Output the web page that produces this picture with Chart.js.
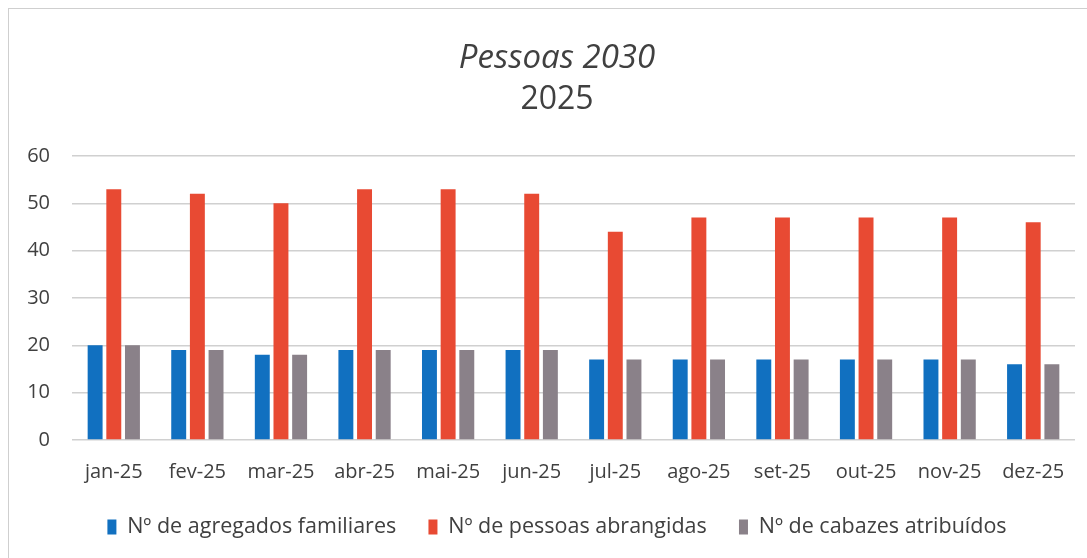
<!DOCTYPE html>
<html>
<head>
<meta charset="utf-8">
<script src="https://cdn.jsdelivr.net/npm/chart.js@4/dist/chart.umd.min.js"></script>
<style>
  html, body { margin: 0; padding: 0; background: #fff; overflow: hidden; }
  #frame { position: absolute; left: 8px; top: 8px; width: 1100px; height: 600px;
           border: 1px solid #cfcfcf; box-sizing: border-box; }
  #wrap { position: absolute; left: 0; top: 0; width: 1087px; height: 558px; }
</style>
</head>
<body>
<div id="frame"></div>
<div id="wrap"><canvas id="c" width="1087" height="558"></canvas></div>
<script>
const months = ['jan-25','fev-25','mar-25','abr-25','mai-25','jun-25','jul-25','ago-25','set-25','out-25','nov-25','dez-25'];
const agregados = [20, 19, 18, 19, 19, 19, 17, 17, 17, 17, 17, 16];
const pessoas   = [53, 52, 50, 53, 53, 52, 44, 47, 47, 47, 47, 46];
const cabazes   = [20, 19, 18, 19, 19, 19, 17, 17, 17, 17, 17, 16];
const yTicks = [0, 10, 20, 30, 40, 50, 60];

const fontFam = '"Open Sans", Lato, sans-serif';
const textCol = '#404040';

// the y axis keeps a narrow band; widen its label clip region into the left margin
const yLabelMargin = {
  id: 'yLabelMargin',
  afterLayout(chart) { chart.scales.y.left = 4; }
};

new Chart(document.getElementById('c'), {
  type: 'bar',
  data: {
    labels: months,
    datasets: [
      { label: 'Nº de agregados familiares', data: agregados, backgroundColor: '#1170c0' },
      { label: 'Nº de pessoas abrangidas', data: pessoas, backgroundColor: '#e84a33' },
      { label: 'Nº de cabazes atribuídos', data: cabazes, backgroundColor: '#8a8189' }
    ]
  },
  plugins: [yLabelMargin],
  options: {
    responsive: false,
    animation: false,
    devicePixelRatio: 1,
    layout: { padding: { left: 39, right: 12, top: 39, bottom: 10.25 } },
    datasets: { bar: { categoryPercentage: 0.67, barPercentage: 0.8 } },
    plugins: {
      title: {
        display: true,
        text: 'Pessoas 2030',
        color: textCol,
        font: { family: fontFam, size: 33, style: 'italic', weight: 'normal' },
        padding: { top: 0, bottom: 2 }
      },
      subtitle: {
        display: true,
        text: '2025',
        color: textCol,
        font: { family: fontFam, size: 32, weight: 'normal' },
        padding: { top: 0, bottom: 37 }
      },
      legend: {
        position: 'bottom',
        labels: {
          color: textCol,
          font: { family: fontFam, size: 21.5 },
          boxWidth: 9,
          boxHeight: 15,
          padding: 32.25
        }
      },
      tooltip: { enabled: false }
    },
    scales: {
      x: {
        grid: { display: false, tickLength: 20 },
        border: { display: false },
        ticks: { color: textCol, font: { family: fontFam, size: 20 }, padding: 0, maxRotation: 0 }
      },
      y: {
        min: 0, max: 60,
        afterBuildTicks: (axis) => { axis.ticks = yTicks.map(v => ({ value: v })); },
        afterFit: (axis) => { axis.width = 33; },
        grid: { color: '#d0d0d0', lineWidth: 1.5, drawTicks: false },
        border: { display: false },
        ticks: { color: textCol, font: { family: fontFam, size: 20 }, padding: 22 }
      }
    }
  }
});
</script>
</body>
</html>
